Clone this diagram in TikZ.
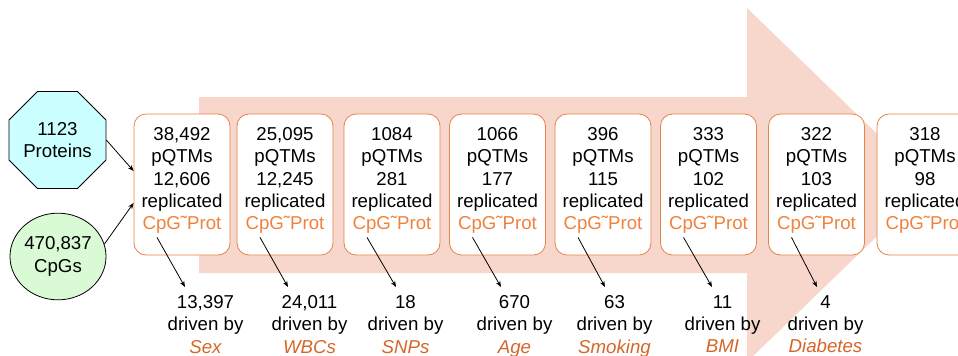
\documentclass[tikz,border=0pt]{standalone}
\usepackage{fontspec}
\setmainfont{Liberation Sans}
\usetikzlibrary{shapes.geometric,arrows.meta,calc}

\definecolor{pinkbg}{RGB}{247,214,203}
\definecolor{boxedge}{RGB}{232,130,70}
\definecolor{prottext}{RGB}{240,130,60}
\definecolor{drivertext}{RGB}{212,102,40}
\definecolor{protfill}{RGB}{204,255,255}
\definecolor{cpgfill}{RGB}{218,250,214}

\begin{document}
\begin{tikzpicture}[x=0.75pt, y=-0.75pt, font=\fontsize{14}{16.8}\selectfont]
    \tikzstyle{qtm box}=[
        draw = boxedge,
        line width = 0.6pt,
        fill = white,
        rounded corners = 9pt,
        minimum width = 72pt,
        minimum height = 105.75pt
    ]
    \tikzstyle{qtm text}=[
        align = center,
        inner sep = 0pt,
        anchor = north
    ]
    \tikzstyle{link}=[
        -{Stealth[length=4.5pt,width=3.5pt]},
        line width = 0.6pt
    ]

    \useasboundingbox (0,0) rectangle (958,355);
    \clip (0,0) rectangle (958,355);

    % big arrow behind the boxes
    \fill[pinkbg] (199,97) -- (747,97) -- (747,8) -- (930,185) -- (747,362) -- (747,273) -- (199,273) -- cycle;

    \node[regular polygon, regular polygon sides=8, draw, line width=0.6pt, fill=protfill,
          minimum size=74pt, inner sep=0pt, align=center] (prot) at (57.5,140) {1123\\Proteins};
    \node[ellipse, draw, line width=0.6pt, fill=cpgfill, minimum width=72pt,
          minimum height=65pt, inner sep=0pt, align=center] (cpg) at (58,256.5) {470,837\\CpGs};

    \node[qtm box] (b1) at (182,184.5)   {};
    \node[qtm box] (b2) at (285,184.5)   {};
    \node[qtm box] (b3) at (392,184.5)   {};
    \node[qtm box] (b4) at (497.5,184.5) {};
    \node[qtm box] (b5) at (603,184.5)   {};
    \node[qtm box] (b6) at (708.5,184.5) {};
    \node[qtm box] (b7) at (816.5,184.5) {};
    \node[qtm box] (b8) at (925,184.5)   {};

    \node[qtm text] (t1) at (182,127)   {38,492\\pQTMs\\12,606\\replicated\\\textcolor{prottext}{CpG˜Prot}};
    \node[qtm text] (t2) at (285,127)   {25,095\\pQTMs\\12,245\\replicated\\\textcolor{prottext}{CpG˜Prot}};
    \node[qtm text] (t3) at (392,127)   {1084\\pQTMs\\281\\replicated\\\textcolor{prottext}{CpG˜Prot}};
    \node[qtm text] (t4) at (497.5,127) {1066\\pQTMs\\177\\replicated\\\textcolor{prottext}{CpG˜Prot}};
    \node[qtm text] (t5) at (603,127)   {396\\pQTMs\\115\\replicated\\\textcolor{prottext}{CpG˜Prot}};
    \node[qtm text] (t6) at (708.5,127) {333\\pQTMs\\102\\replicated\\\textcolor{prottext}{CpG˜Prot}};
    \node[qtm text] (t7) at (816.5,127) {322\\pQTMs\\103\\replicated\\\textcolor{prottext}{CpG˜Prot}};
    \node[qtm text] (t8) at (925,127)   {318\\pQTMs\\98\\replicated\\\textcolor{prottext}{CpG˜Prot}};

    \node[qtm text] (d1) at (205.5,295) {13,397\\driven by\\\textcolor{drivertext}{\itshape Sex}};
    \node[qtm text] (d2) at (309.5,295) {24,011\\driven by\\\textcolor{drivertext}{\itshape WBCs}};
    \node[qtm text] (d3) at (405.5,295) {18\\driven by\\\textcolor{drivertext}{\itshape SNPs}};
    \node[qtm text] (d4) at (514.5,295) {670\\driven by\\\textcolor{drivertext}{\itshape Age}};
    \node[qtm text] (d5) at (614.5,295) {63\\driven by\\\textcolor{drivertext}{\itshape Smoking}};
    \node[qtm text] (d6) at (722.5,295) {11\\driven by\\\textcolor{drivertext}{\itshape BMI}};
    \node[qtm text] (d7) at (825.5,295) {4\\driven by\\\textcolor{drivertext}{\itshape Diabetes}};

    \path[link] (prot.east) edge ($(b1.west)+(0,-13.5)$);
    \path[link] (cpg.15) edge ($(b1.west)+(0,18.5)$);

    \path[link] ($(b1.south)+(-25,-18)$) edge ($(d1.north)+(-20.5,-8)$);
    \path[link] ($(b2.south)+(-25,-18)$) edge ($(d2.north)+(-21.5,-8)$);
    \path[link] ($(b3.south)+(-25,-18)$) edge ($(d3.north)+(-9.5,-8)$);
    \path[link] ($(b4.south)+(-25,-18)$) edge ($(d4.north)+(-13.5,-8)$);
    \path[link] ($(b5.south)+(-25,-18)$) edge ($(d5.north)+(-9.5,-8)$);
    \path[link] ($(b6.south)+(-25,-18)$) edge ($(d6.north)+(-10.5,-8)$);
    \path[link] ($(b7.south)+(-25,-18)$) edge ($(d7.north)+(-8.5,-8)$);

\end{tikzpicture}
\end{document}
